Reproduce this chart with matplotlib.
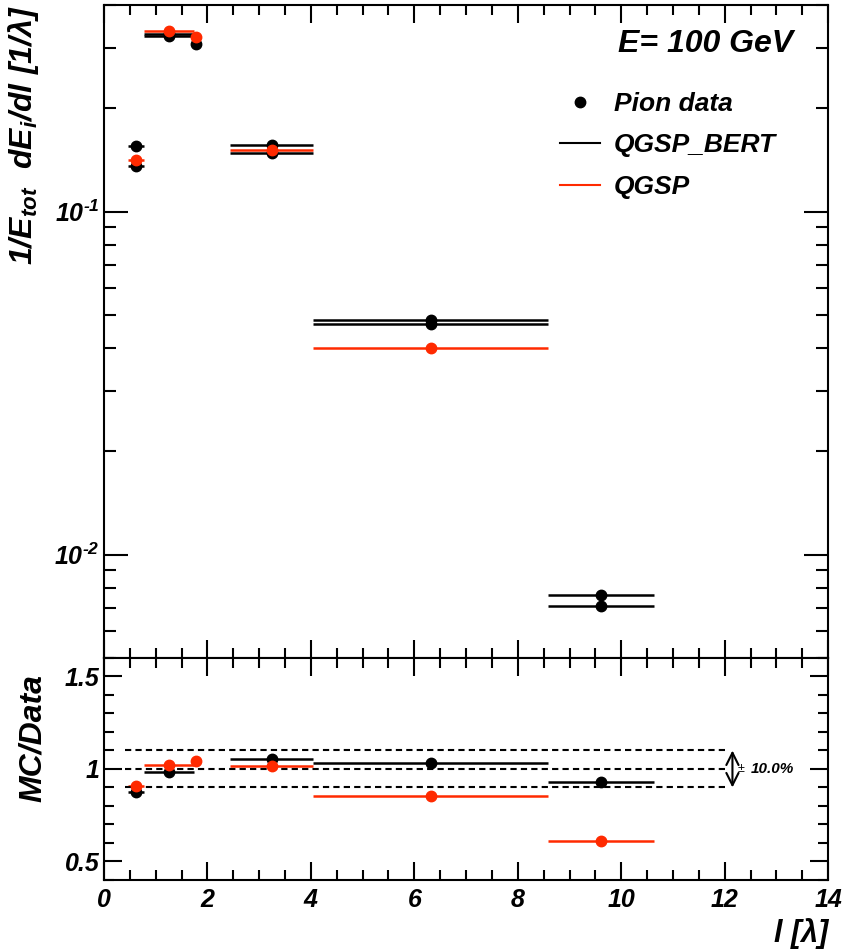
import matplotlib
matplotlib.use('Agg')
import matplotlib.pyplot as plt
import numpy as np
from matplotlib.lines import Line2D
from matplotlib.ticker import MultipleLocator, FixedLocator, NullFormatter

plt.rcParams['font.family'] = 'Liberation Sans'
plt.rcParams['font.weight'] = 'bold'
plt.rcParams['font.style'] = 'italic'
plt.rcParams['mathtext.fontset'] = 'custom'
plt.rcParams['mathtext.rm'] = 'Liberation Sans:italic:bold'
plt.rcParams['mathtext.it'] = 'Liberation Sans:italic:bold'
plt.rcParams['mathtext.bf'] = 'Liberation Sans:italic:bold'

# bins in interaction lengths
bin_center = np.array([0.62, 1.26, 1.78, 3.25, 6.33, 9.61])
bin_lo = np.array([0.46, 0.77, 1.74, 2.44, 4.04, 8.59])
bin_hi = np.array([0.77, 1.74, 1.82, 4.04, 8.59, 10.64])

# 1/E_tot dE_i/dl
pion_data = np.array([0.1556, 0.330, 0.309, 0.1486, 0.0469, 0.00764])
qgsp_bert = np.array([0.136, 0.325, np.nan, 0.1566, 0.0484, 0.00710])
qgsp = np.array([0.141, 0.337, 0.323, 0.1513, 0.0401, 0.00466])

RED = '#ff2a00'

fig = plt.figure(figsize=(8.52, 9.51), dpi=100)
ax1 = fig.add_axes([0.122, 0.3081, 0.850, 0.6866])
ax2 = fig.add_axes([0.122, 0.0747, 0.850, 0.2334])

xerr = [bin_center - bin_lo, bin_hi - bin_center]


def draw(ax, y, color):
    ax.errorbar(bin_center, y, xerr=xerr, fmt='o', ms=7.5, color=color,
                ecolor=color, elinewidth=1.8, capsize=0)


draw(ax1, pion_data, 'black')
draw(ax1, qgsp_bert, 'black')
draw(ax1, qgsp, RED)

ax1.set_yscale('log')
ax1.set_ylim(0.005, 0.4)
ax1.set_xlim(0, 14)

# ratio panel
draw(ax2, qgsp_bert / pion_data, 'black')
draw(ax2, qgsp / pion_data, RED)
for lvl in [0.9, 1.0, 1.1]:
    ax2.hlines(lvl, 0.4, 12.0, colors='black', linestyles=(0, (3, 2)), lw=1.5)
ax2.annotate('', xy=(12.15, 1.1), xytext=(12.15, 0.9),
             arrowprops=dict(arrowstyle='<->', lw=1.5, color='black',
                             mutation_scale=22, shrinkA=0, shrinkB=0))
ax2.text(12.25, 1.0, '±', fontsize=9, fontweight='normal', fontstyle='normal',
         ha='left', va='center')
ax2.text(12.5, 1.0, '10.0%', fontsize=11, ha='left', va='center')
ax2.set_xlim(0, 14)
ax2.set_ylim(0.4, 1.6)

for ax in (ax1, ax2):
    for sp in ax.spines.values():
        sp.set_linewidth(1.5)
    ax.xaxis.set_major_locator(MultipleLocator(2))
    ax.xaxis.set_minor_locator(MultipleLocator(0.5))
    ax.tick_params(which='both', direction='in', top=True, right=True,
                   width=1.5, labelsize=18)
    ax.tick_params(axis='x', which='major', length=13, pad=6)
    ax.tick_params(axis='x', which='minor', length=7)
    ax.tick_params(axis='y', which='both', pad=3)

ax1.tick_params(axis='x', labelbottom=False)
ax1.yaxis.set_major_locator(FixedLocator([0.01, 0.1]))
ax1.set_yticklabels([r'$10^{\text{-2}}$', r'$10^{\text{-1}}$'])
ax1.yaxis.set_minor_locator(FixedLocator(
    [m * d for d in (0.001, 0.01, 0.1) for m in range(2, 10)]))
ax1.yaxis.set_minor_formatter(NullFormatter())
ax1.tick_params(axis='y', which='major', length=17)
ax1.tick_params(axis='y', which='minor', length=8.5)

ax2.yaxis.set_major_locator(FixedLocator([0.5, 1.0, 1.5]))
ax2.set_yticklabels(['0.5', '1', '1.5'])
ax2.yaxis.set_minor_locator(MultipleLocator(0.1))
ax2.tick_params(axis='y', which='major', length=13)
ax2.tick_params(axis='y', which='minor', length=7)

ax1.set_ylabel(r'$1/E_{tot}\ \ dE_{i}/dl\ [1/\lambda]$', fontsize=23, loc='top')
ax1.yaxis.set_label_coords(-0.087, 1.0)
fig.text(33 / 852, 1 - 738 / 951, 'MC/Data', rotation=90, fontsize=23,
         ha='center', va='center')
fig.text(828 / 852, 1 - 934 / 951, 'l [λ]', fontsize=22, ha='right',
         va='center')

fig.text(618 / 852, 1 - 44 / 951, 'E= 100 GeV', fontsize=23, ha='left',
         va='center')
handles = [Line2D([], [], marker='o', ls='none', color='black', ms=7.5),
           Line2D([], [], color='black', lw=1.5),
           Line2D([], [], color=RED, lw=1.5)]
fig.legend(handles, ['Pion data', 'QGSP_BERT', 'QGSP'], loc='upper left',
           bbox_to_anchor=(560 / 852, 1 - 92 / 951), frameon=False,
           fontsize=19, handlelength=1.5, handletextpad=0.55,
           labelspacing=0.66, borderpad=0, borderaxespad=0)

fig.savefig('out.png', dpi=100)
